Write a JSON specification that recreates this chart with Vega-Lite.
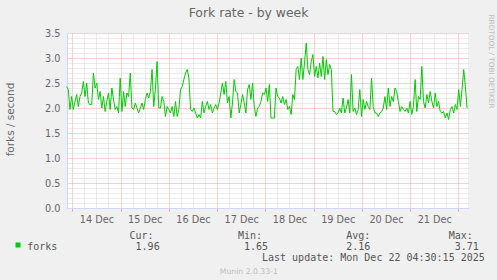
{
  "$schema": "https://vega.github.io/schema/vega-lite/v6.json",
  "width": 401,
  "height": 175,
  "autosize": "none",
  "padding": {"left": 67, "top": 33, "right": 29, "bottom": 72},
  "background": "#F0F0F0",
  "config": {"view": {"fill": "#FFFFFF", "stroke": null}, "font": "DejaVu Sans"},
  "title": {"text": "Fork rate - by week", "font": "DejaVu Sans", "fontSize": 12.4, "fontWeight": "normal", "color": "#666666", "anchor": "middle", "frame": "group", "dx": -19, "dy": 5, "offset": 0},
  "data": {"values": [
    {"t": "2025-12-13T21:10", "v": 2.43}, {"t": "2025-12-13T22:00", "v": 2.37}, {"t": "2025-12-13T22:50", "v": 1.97}, {"t": "2025-12-13T23:40", "v": 2.23},
    {"t": "2025-12-14T00:30", "v": 1.97}, {"t": "2025-12-14T01:20", "v": 2.13}, {"t": "2025-12-14T02:10", "v": 2.27}, {"t": "2025-12-14T03:00", "v": 2.03},
    {"t": "2025-12-14T03:50", "v": 2.23}, {"t": "2025-12-14T04:40", "v": 2.3}, {"t": "2025-12-14T05:30", "v": 2.53}, {"t": "2025-12-14T06:20", "v": 2.23},
    {"t": "2025-12-14T07:10", "v": 2.5}, {"t": "2025-12-14T08:00", "v": 2.1}, {"t": "2025-12-14T08:50", "v": 2.07}, {"t": "2025-12-14T09:40", "v": 2.07},
    {"t": "2025-12-14T10:30", "v": 2.7}, {"t": "2025-12-14T11:20", "v": 2.4}, {"t": "2025-12-14T12:10", "v": 2.5}, {"t": "2025-12-14T13:00", "v": 2.17},
    {"t": "2025-12-14T13:50", "v": 2.33}, {"t": "2025-12-14T14:40", "v": 2.0}, {"t": "2025-12-14T15:30", "v": 2.23}, {"t": "2025-12-14T16:20", "v": 1.93},
    {"t": "2025-12-14T17:10", "v": 2.13}, {"t": "2025-12-14T18:00", "v": 2.3}, {"t": "2025-12-14T18:50", "v": 1.97}, {"t": "2025-12-14T19:40", "v": 2.4},
    {"t": "2025-12-14T20:30", "v": 2.17}, {"t": "2025-12-14T21:20", "v": 1.97}, {"t": "2025-12-14T22:10", "v": 2.03}, {"t": "2025-12-14T23:00", "v": 1.9},
    {"t": "2025-12-14T23:50", "v": 2.6}, {"t": "2025-12-15T00:40", "v": 1.93}, {"t": "2025-12-15T01:30", "v": 2.33}, {"t": "2025-12-15T02:20", "v": 2.03},
    {"t": "2025-12-15T03:10", "v": 2.3}, {"t": "2025-12-15T04:00", "v": 2.23}, {"t": "2025-12-15T04:50", "v": 2.7}, {"t": "2025-12-15T05:40", "v": 2.0},
    {"t": "2025-12-15T06:30", "v": 1.97}, {"t": "2025-12-15T07:20", "v": 2.1}, {"t": "2025-12-15T08:10", "v": 2.0}, {"t": "2025-12-15T09:00", "v": 1.9},
    {"t": "2025-12-15T09:50", "v": 2.0}, {"t": "2025-12-15T10:40", "v": 2.1}, {"t": "2025-12-15T11:30", "v": 1.97}, {"t": "2025-12-15T12:20", "v": 2.17},
    {"t": "2025-12-15T13:10", "v": 2.3}, {"t": "2025-12-15T14:00", "v": 2.2}, {"t": "2025-12-15T14:50", "v": 2.33}, {"t": "2025-12-15T15:40", "v": 2.77},
    {"t": "2025-12-15T16:30", "v": 2.03}, {"t": "2025-12-15T17:20", "v": 2.37}, {"t": "2025-12-15T18:10", "v": 2.93}, {"t": "2025-12-15T19:00", "v": 2.0},
    {"t": "2025-12-15T19:50", "v": 2.0}, {"t": "2025-12-15T20:40", "v": 2.23}, {"t": "2025-12-15T21:30", "v": 2.13}, {"t": "2025-12-15T22:20", "v": 1.83},
    {"t": "2025-12-15T23:10", "v": 2.03}, {"t": "2025-12-16T00:00", "v": 1.97}, {"t": "2025-12-16T00:50", "v": 1.9}, {"t": "2025-12-16T01:40", "v": 2.03},
    {"t": "2025-12-16T02:30", "v": 1.83}, {"t": "2025-12-16T03:20", "v": 2.13}, {"t": "2025-12-16T04:10", "v": 1.83}, {"t": "2025-12-16T05:00", "v": 1.97},
    {"t": "2025-12-16T05:50", "v": 2.37}, {"t": "2025-12-16T06:40", "v": 2.43}, {"t": "2025-12-16T07:30", "v": 2.57}, {"t": "2025-12-16T08:20", "v": 2.7},
    {"t": "2025-12-16T09:10", "v": 2.77}, {"t": "2025-12-16T10:00", "v": 2.6}, {"t": "2025-12-16T10:50", "v": 1.97}, {"t": "2025-12-16T11:40", "v": 1.93},
    {"t": "2025-12-16T12:30", "v": 2.0}, {"t": "2025-12-16T13:20", "v": 1.9}, {"t": "2025-12-16T14:10", "v": 1.8}, {"t": "2025-12-16T15:00", "v": 1.87},
    {"t": "2025-12-16T15:50", "v": 1.8}, {"t": "2025-12-16T16:40", "v": 2.13}, {"t": "2025-12-16T17:30", "v": 1.9}, {"t": "2025-12-16T18:20", "v": 2.03},
    {"t": "2025-12-16T19:10", "v": 2.13}, {"t": "2025-12-16T20:00", "v": 1.97}, {"t": "2025-12-16T20:50", "v": 2.07}, {"t": "2025-12-16T21:40", "v": 1.9},
    {"t": "2025-12-16T22:30", "v": 2.0}, {"t": "2025-12-16T23:20", "v": 2.07}, {"t": "2025-12-17T00:10", "v": 1.97}, {"t": "2025-12-17T01:00", "v": 2.1},
    {"t": "2025-12-17T01:50", "v": 2.3}, {"t": "2025-12-17T02:40", "v": 2.5}, {"t": "2025-12-17T03:30", "v": 2.27}, {"t": "2025-12-17T04:20", "v": 2.53},
    {"t": "2025-12-17T05:10", "v": 2.1}, {"t": "2025-12-17T06:00", "v": 2.23}, {"t": "2025-12-17T06:50", "v": 1.8}, {"t": "2025-12-17T07:40", "v": 2.1},
    {"t": "2025-12-17T08:30", "v": 2.57}, {"t": "2025-12-17T09:20", "v": 2.33}, {"t": "2025-12-17T10:10", "v": 2.3}, {"t": "2025-12-17T11:00", "v": 1.9},
    {"t": "2025-12-17T11:50", "v": 2.07}, {"t": "2025-12-17T12:40", "v": 2.27}, {"t": "2025-12-17T13:30", "v": 2.1}, {"t": "2025-12-17T14:20", "v": 1.9},
    {"t": "2025-12-17T15:10", "v": 2.37}, {"t": "2025-12-17T16:00", "v": 2.47}, {"t": "2025-12-17T16:50", "v": 2.17}, {"t": "2025-12-17T17:40", "v": 2.5},
    {"t": "2025-12-17T18:30", "v": 2.03}, {"t": "2025-12-17T19:20", "v": 1.83}, {"t": "2025-12-17T20:10", "v": 2.0}, {"t": "2025-12-17T21:00", "v": 2.03},
    {"t": "2025-12-17T21:50", "v": 2.13}, {"t": "2025-12-17T22:40", "v": 2.3}, {"t": "2025-12-17T23:30", "v": 2.27}, {"t": "2025-12-18T00:20", "v": 2.4},
    {"t": "2025-12-18T01:10", "v": 2.13}, {"t": "2025-12-18T02:00", "v": 2.47}, {"t": "2025-12-18T02:50", "v": 1.8}, {"t": "2025-12-18T03:40", "v": 1.8},
    {"t": "2025-12-18T04:30", "v": 1.8}, {"t": "2025-12-18T05:20", "v": 2.4}, {"t": "2025-12-18T06:10", "v": 2.23}, {"t": "2025-12-18T07:00", "v": 2.2},
    {"t": "2025-12-18T07:50", "v": 2.1}, {"t": "2025-12-18T08:40", "v": 2.23}, {"t": "2025-12-18T09:30", "v": 2.07}, {"t": "2025-12-18T10:20", "v": 2.17},
    {"t": "2025-12-18T11:10", "v": 1.97}, {"t": "2025-12-18T12:00", "v": 2.03}, {"t": "2025-12-18T12:50", "v": 1.87}, {"t": "2025-12-18T13:40", "v": 2.27},
    {"t": "2025-12-18T14:30", "v": 2.17}, {"t": "2025-12-18T15:20", "v": 2.77}, {"t": "2025-12-18T16:10", "v": 2.83}, {"t": "2025-12-18T17:00", "v": 2.57},
    {"t": "2025-12-18T17:50", "v": 3.0}, {"t": "2025-12-18T18:40", "v": 2.57}, {"t": "2025-12-18T19:30", "v": 2.9}, {"t": "2025-12-18T20:20", "v": 3.3},
    {"t": "2025-12-18T21:10", "v": 2.77}, {"t": "2025-12-18T22:00", "v": 2.67}, {"t": "2025-12-18T22:50", "v": 2.93}, {"t": "2025-12-18T23:40", "v": 3.07},
    {"t": "2025-12-19T00:30", "v": 2.63}, {"t": "2025-12-19T01:20", "v": 2.83}, {"t": "2025-12-19T02:10", "v": 2.6}, {"t": "2025-12-19T03:00", "v": 2.9},
    {"t": "2025-12-19T03:50", "v": 2.63}, {"t": "2025-12-19T04:40", "v": 3.03}, {"t": "2025-12-19T05:30", "v": 2.57}, {"t": "2025-12-19T06:20", "v": 2.97},
    {"t": "2025-12-19T07:10", "v": 2.67}, {"t": "2025-12-19T08:00", "v": 2.87}, {"t": "2025-12-19T08:50", "v": 2.77}, {"t": "2025-12-19T09:40", "v": 1.93},
    {"t": "2025-12-19T10:30", "v": 1.93}, {"t": "2025-12-19T11:20", "v": 1.87}, {"t": "2025-12-19T12:10", "v": 1.9}, {"t": "2025-12-19T13:00", "v": 2.0},
    {"t": "2025-12-19T13:50", "v": 1.9}, {"t": "2025-12-19T14:40", "v": 2.2}, {"t": "2025-12-19T15:30", "v": 1.9}, {"t": "2025-12-19T16:20", "v": 2.0},
    {"t": "2025-12-19T17:10", "v": 2.17}, {"t": "2025-12-19T18:00", "v": 1.9}, {"t": "2025-12-19T18:50", "v": 2.67}, {"t": "2025-12-19T19:40", "v": 1.93},
    {"t": "2025-12-19T20:30", "v": 2.0}, {"t": "2025-12-19T21:20", "v": 1.87}, {"t": "2025-12-19T22:10", "v": 1.97}, {"t": "2025-12-19T23:00", "v": 2.37},
    {"t": "2025-12-19T23:50", "v": 1.83}, {"t": "2025-12-20T00:40", "v": 2.17}, {"t": "2025-12-20T01:30", "v": 1.97}, {"t": "2025-12-20T02:20", "v": 2.13},
    {"t": "2025-12-20T03:10", "v": 2.03}, {"t": "2025-12-20T04:00", "v": 1.97}, {"t": "2025-12-20T04:50", "v": 2.6}, {"t": "2025-12-20T05:40", "v": 2.03},
    {"t": "2025-12-20T06:30", "v": 1.9}, {"t": "2025-12-20T07:20", "v": 1.9}, {"t": "2025-12-20T08:10", "v": 1.83}, {"t": "2025-12-20T09:00", "v": 1.9},
    {"t": "2025-12-20T09:50", "v": 1.93}, {"t": "2025-12-20T10:40", "v": 2.0}, {"t": "2025-12-20T11:30", "v": 2.23}, {"t": "2025-12-20T12:20", "v": 1.97},
    {"t": "2025-12-20T13:10", "v": 2.4}, {"t": "2025-12-20T14:00", "v": 2.03}, {"t": "2025-12-20T14:50", "v": 2.23}, {"t": "2025-12-20T15:40", "v": 2.13},
    {"t": "2025-12-20T16:30", "v": 2.4}, {"t": "2025-12-20T17:20", "v": 2.33}, {"t": "2025-12-20T18:10", "v": 2.13}, {"t": "2025-12-20T19:00", "v": 1.93},
    {"t": "2025-12-20T19:50", "v": 2.03}, {"t": "2025-12-20T20:40", "v": 1.97}, {"t": "2025-12-20T21:30", "v": 1.93}, {"t": "2025-12-20T22:20", "v": 2.0},
    {"t": "2025-12-20T23:10", "v": 1.9}, {"t": "2025-12-21T00:00", "v": 2.13}, {"t": "2025-12-21T00:50", "v": 1.87}, {"t": "2025-12-21T01:40", "v": 2.03},
    {"t": "2025-12-21T02:30", "v": 2.57}, {"t": "2025-12-21T03:20", "v": 1.93}, {"t": "2025-12-21T04:10", "v": 2.23}, {"t": "2025-12-21T05:00", "v": 2.17},
    {"t": "2025-12-21T05:50", "v": 2.83}, {"t": "2025-12-21T06:40", "v": 2.13}, {"t": "2025-12-21T07:30", "v": 2.0}, {"t": "2025-12-21T08:20", "v": 2.27},
    {"t": "2025-12-21T09:10", "v": 2.1}, {"t": "2025-12-21T10:00", "v": 2.33}, {"t": "2025-12-21T10:50", "v": 2.13}, {"t": "2025-12-21T11:40", "v": 2.0},
    {"t": "2025-12-21T12:30", "v": 2.3}, {"t": "2025-12-21T13:20", "v": 2.03}, {"t": "2025-12-21T14:10", "v": 2.13}, {"t": "2025-12-21T15:00", "v": 1.93},
    {"t": "2025-12-21T15:50", "v": 1.9}, {"t": "2025-12-21T16:40", "v": 1.93}, {"t": "2025-12-21T17:30", "v": 1.8}, {"t": "2025-12-21T18:20", "v": 1.9},
    {"t": "2025-12-21T19:10", "v": 1.77}, {"t": "2025-12-21T20:00", "v": 1.97}, {"t": "2025-12-21T20:50", "v": 2.03}, {"t": "2025-12-21T21:40", "v": 1.9},
    {"t": "2025-12-21T22:30", "v": 2.07}, {"t": "2025-12-21T23:20", "v": 1.97}, {"t": "2025-12-22T00:10", "v": 2.37}, {"t": "2025-12-22T01:00", "v": 2.03},
    {"t": "2025-12-22T01:50", "v": 2.37}, {"t": "2025-12-22T02:40", "v": 2.77}, {"t": "2025-12-22T03:30", "v": 2.43}, {"t": "2025-12-22T04:20", "v": 2.0}
  ]},
  "layer": [
    {
      "mark": {"type": "line", "strokeWidth": 1},
      "encoding": {
        "x": {
          "field": "t", "type": "temporal",
          "scale": {"domain": [{"year": 2025, "month": 12, "date": 13, "hours": 21, "minutes": 22}, {"year": 2025, "month": 12, "date": 22, "hours": 4, "minutes": 48}]},
          "axis": {
            "orient": "bottom",
            "values": [
              {"year": 2025, "month": 12, "date": 14, "hours": 0}, {"year": 2025, "month": 12, "date": 14, "hours": 6}, {"year": 2025, "month": 12, "date": 14, "hours": 12}, {"year": 2025, "month": 12, "date": 14, "hours": 18},
              {"year": 2025, "month": 12, "date": 15, "hours": 0}, {"year": 2025, "month": 12, "date": 15, "hours": 6}, {"year": 2025, "month": 12, "date": 15, "hours": 12}, {"year": 2025, "month": 12, "date": 15, "hours": 18},
              {"year": 2025, "month": 12, "date": 16, "hours": 0}, {"year": 2025, "month": 12, "date": 16, "hours": 6}, {"year": 2025, "month": 12, "date": 16, "hours": 12}, {"year": 2025, "month": 12, "date": 16, "hours": 18},
              {"year": 2025, "month": 12, "date": 17, "hours": 0}, {"year": 2025, "month": 12, "date": 17, "hours": 6}, {"year": 2025, "month": 12, "date": 17, "hours": 12}, {"year": 2025, "month": 12, "date": 17, "hours": 18},
              {"year": 2025, "month": 12, "date": 18, "hours": 0}, {"year": 2025, "month": 12, "date": 18, "hours": 6}, {"year": 2025, "month": 12, "date": 18, "hours": 12}, {"year": 2025, "month": 12, "date": 18, "hours": 18},
              {"year": 2025, "month": 12, "date": 19, "hours": 0}, {"year": 2025, "month": 12, "date": 19, "hours": 6}, {"year": 2025, "month": 12, "date": 19, "hours": 12}, {"year": 2025, "month": 12, "date": 19, "hours": 18},
              {"year": 2025, "month": 12, "date": 20, "hours": 0}, {"year": 2025, "month": 12, "date": 20, "hours": 6}, {"year": 2025, "month": 12, "date": 20, "hours": 12}, {"year": 2025, "month": 12, "date": 20, "hours": 18},
              {"year": 2025, "month": 12, "date": 21, "hours": 0}, {"year": 2025, "month": 12, "date": 21, "hours": 6}, {"year": 2025, "month": 12, "date": 21, "hours": 12}, {"year": 2025, "month": 12, "date": 21, "hours": 18},
              {"year": 2025, "month": 12, "date": 22, "hours": 0}
            ],
            "labelExpr": "hours(datum.value) === 12 ? timeFormat(datum.value, '%d %b') : ''",
            "labelOverlap": false,
            "labelFlush": false,
            "labelFont": "DejaVu Sans",
            "labelFontSize": 9.7,
            "labelColor": "#666666",
            "labelPadding": 3,
            "ticks": true,
            "tickSize": 3,
            "tickColor": "#F0A0A0",
            "tickOpacity": {"condition": {"test": "hours(datum.value) === 0", "value": 1}, "value": 0},
            "grid": true,
            "gridDash": [1, 1],
            "gridColor": {"condition": {"test": "hours(datum.value) === 0", "value": "#F0A0A0"}, "value": "#D6D6D6"},
            "domainColor": "#CFD6F8",
            "title": [
              "\u200b\u00a0\u00a0\u00a0\u00a0\u00a0\u00a0\u00a0\u00a0\u00a0\u00a0\u00a0\u00a0\u00a0\u00a0\u00a0\u00a0\u00a0Cur:\u00a0\u00a0\u00a0\u00a0\u00a0\u00a0\u00a0\u00a0\u00a0\u00a0\u00a0\u00a0\u00a0\u00a0Min:\u00a0\u00a0\u00a0\u00a0\u00a0\u00a0\u00a0\u00a0\u00a0\u00a0\u00a0\u00a0\u00a0\u00a0Avg:\u00a0\u00a0\u00a0\u00a0\u00a0\u00a0\u00a0\u00a0\u00a0\u00a0\u00a0\u00a0\u00a0Max:",
              "forks\u00a0\u00a0\u00a0\u00a0\u00a0\u00a0\u00a0\u00a0\u00a0\u00a0\u00a0\u00a0\u00a01.96\u00a0\u00a0\u00a0\u00a0\u00a0\u00a0\u00a0\u00a0\u00a0\u00a0\u00a0\u00a0\u00a0\u00a01.65\u00a0\u00a0\u00a0\u00a0\u00a0\u00a0\u00a0\u00a0\u00a0\u00a0\u00a0\u00a0\u00a02.16\u00a0\u00a0\u00a0\u00a0\u00a0\u00a0\u00a0\u00a0\u00a0\u00a0\u00a0\u00a0\u00a0\u00a03.71",
              "\u200b\u00a0\u00a0\u00a0\u00a0\u00a0\u00a0\u00a0\u00a0\u00a0\u00a0\u00a0\u00a0\u00a0\u00a0\u00a0\u00a0\u00a0\u00a0\u00a0\u00a0\u00a0\u00a0\u00a0\u00a0\u00a0\u00a0\u00a0\u00a0\u00a0\u00a0\u00a0\u00a0\u00a0\u00a0\u00a0\u00a0\u00a0\u00a0\u00a0Last update: Mon Dec 22 04:30:15 2025"
            ],
            "titleFont": "DejaVu Sans Mono",
            "titleFontSize": 10,
            "titleFontWeight": "normal",
            "titleColor": "#555555",
            "titleAlign": "left",
            "titleAnchor": "start",
            "titleBaseline": "alphabetic",
            "titleLineHeight": 11.2,
            "titleX": -40.3,
            "titleY": 30.3
          }
        },
        "y": {
          "field": "v", "type": "quantitative",
          "scale": {"domain": [0, 3.5], "nice": false},
          "axis": {
            "values": [0, 0.1, 0.2, 0.3, 0.4, 0.5, 0.6, 0.7, 0.8, 0.9, 1, 1.1, 1.2, 1.3, 1.4, 1.5, 1.6, 1.7, 1.8, 1.9, 2, 2.1, 2.2, 2.3, 2.4, 2.5, 2.6, 2.7, 2.8, 2.9, 3, 3.1, 3.2, 3.3, 3.4, 3.5],
            "labelExpr": "abs(datum.value * 2 - round(datum.value * 2)) < 0.01 ? format(datum.value, '.1f') : ''",
            "labelOverlap": false,
            "labelFlush": false,
            "labelFont": "DejaVu Sans",
            "labelFontSize": 9.7,
            "labelColor": "#666666",
            "labelPadding": 7,
            "ticks": false,
            "grid": true,
            "gridDash": [1, 1],
            "gridColor": {"condition": {"test": "abs(datum.value * 2 - round(datum.value * 2)) < 0.01", "value": "#F0A0A0"}, "value": "#D6D6D6"},
            "domainColor": "#CFD6F8",
            "title": "forks / second",
            "titleFont": "DejaVu Sans",
            "titleFontSize": 10.5,
            "titleFontWeight": "normal",
            "titleColor": "#666666",
            "titleAngle": -90,
            "titleAlign": "center",
            "titleBaseline": "middle",
            "titleX": -56.5,
            "titleY": 86
          }
        },
        "color": {
          "datum": "forks", "type": "nominal",
          "scale": {"range": ["#00CC00"]},
          "legend": {
            "title": null,
            "orient": "none",
            "legendX": -54,
            "legendY": 207,
            "padding": 0,
            "symbolType": "square",
            "symbolSize": 25,
            "labelExpr": "''",
            "labelFontSize": 10,
            "encode": {"symbols": {"update": {"fill": {"value": "#00CC00"}, "stroke": {"value": "#00CC00"}, "strokeWidth": {"value": 0}}}}
          }
        }
      }
    },
    {
      "mark": {"type": "line", "opacity": 0},
      "encoding": {
        "x": {
          "field": "t", "type": "temporal",
          "axis": {"orient": "top", "labels": false, "ticks": false, "domain": false, "grid": false,
            "title": "Munin 2.0.33-1", "titleFont": "DejaVu Sans", "titleFontSize": 7.7, "titleFontWeight": "normal", "titleColor": "#BBBBBB",
            "titleAlign": "center", "titleBaseline": "alphabetic", "titleX": 181.3, "titleY": 240}
        },
        "y": {
          "field": "v", "type": "quantitative",
          "axis": {"orient": "right", "labels": false, "ticks": false, "domain": false, "grid": false,
            "title": "RRDTOOL / TOBI OETIKER", "titleFont": "DejaVu Sans", "titleFontSize": 7.3, "titleFontWeight": "normal", "titleColor": "#BBBBBB",
            "titleAngle": 90, "titleAlign": "center", "titleBaseline": "middle", "titleX": 22, "titleY": 28}
        }
      }
    }
  ],
  "resolve": {"axis": {"x": "independent", "y": "independent"}}
}
